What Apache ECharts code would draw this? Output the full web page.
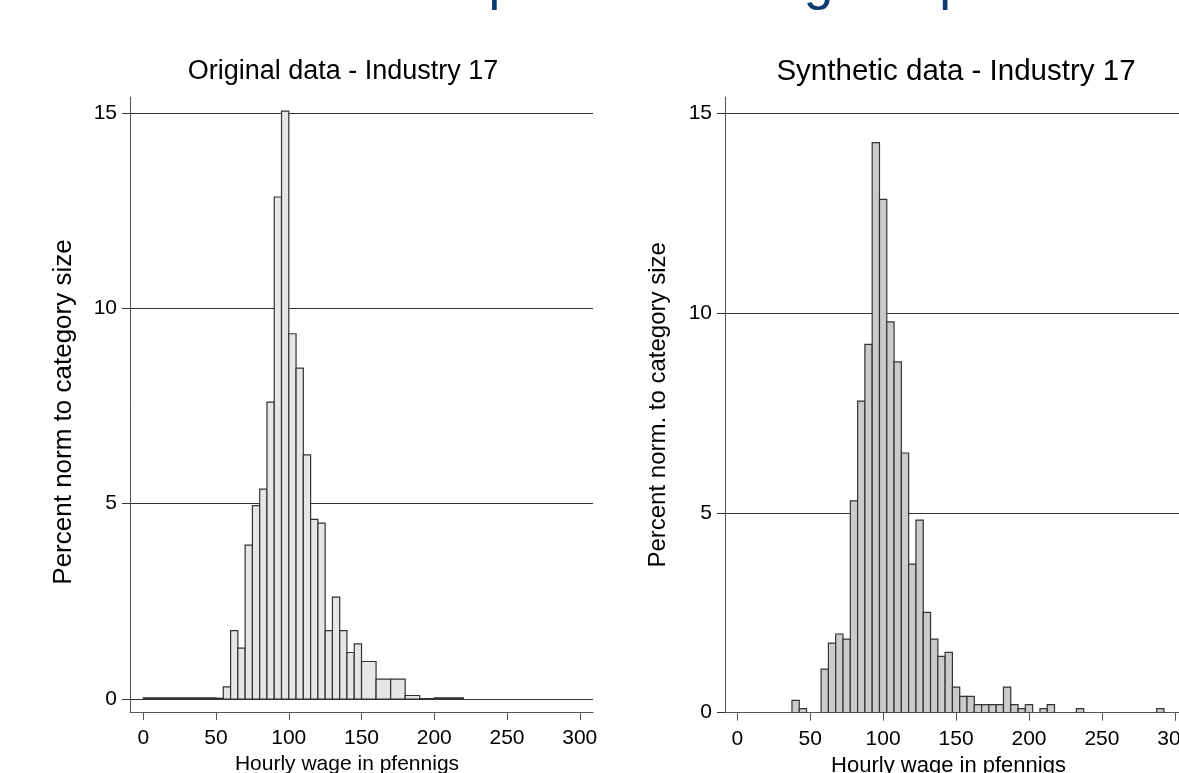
<!DOCTYPE html>
<html><head><meta charset="utf-8">
<script src="https://cdn.jsdelivr.net/npm/echarts@6/dist/echarts.min.js"></script>
<style>html,body{margin:0;padding:0;background:#fff}#c{width:1179px;height:773px}</style>
</head><body><div id="c"></div>
<script>
// ---- text ----
const slideTitle = 'Univariate comparison: histogram plots';
const leftTitle = 'Original data - Industry 17';
const rightTitle = 'Synthetic data - Industry 17';
const xTitle = 'Hourly wage in pfennigs';
const leftYTitle = 'Percent norm to category size';
const rightYTitle = 'Percent norm. to category size';

// ---- tick labels ----
const xTicks = [0, 50, 100, 150, 200, 250, 300];
const yTicks = [0, 5, 10, 15];

// ---- original data (variable-width bins) ----
const origBinStart = [0, 50, 55, 60, 65, 70, 75, 80, 85, 90, 95, 100, 105, 110, 115, 120, 125, 130, 135, 140, 145, 150, 160, 170, 180, 190, 200];
const origBinEnd   = [50, 55, 60, 65, 70, 75, 80, 85, 90, 95, 100, 105, 110, 115, 120, 125, 130, 135, 140, 145, 150, 160, 170, 180, 190, 200, 220];
const origPercent  = [0.03, 0.02, 0.31, 1.75, 1.30, 3.94, 4.95, 5.37, 7.60, 12.85, 15.05, 9.35, 8.47, 6.25, 4.60, 4.50, 1.75, 2.61, 1.75, 1.19, 1.41, 0.96, 0.51, 0.51, 0.09, 0.01, 0.03];

// ---- synthetic data (bins of width 5, given by centre) ----
const synthBinWidth = 5;
const synthBinCenter = [40, 45, 60, 65, 70, 75, 80, 85, 90, 95, 100, 105, 110, 115, 120, 125, 130, 135, 140, 145, 150, 155, 160, 165, 170, 175, 180, 185, 190, 195, 200, 210, 215, 235, 290];
const synthPercent   = [0.31, 0.10, 1.09, 1.74, 1.97, 1.84, 5.30, 7.80, 9.22, 14.27, 12.85, 9.78, 8.78, 6.50, 3.72, 4.82, 2.51, 1.84, 1.41, 1.51, 0.64, 0.41, 0.41, 0.20, 0.20, 0.20, 0.20, 0.64, 0.20, 0.10, 0.20, 0.10, 0.20, 0.10, 0.10];

const FONT = "'Liberation Sans', Arial, Helvetica, sans-serif";

const origData = origBinStart.map((s, i) => [s, origBinEnd[i], origPercent[i]]);
const synthData = synthBinCenter.map((c, i) => [c - synthBinWidth / 2, c + synthBinWidth / 2, synthPercent[i]]);

function makeRender(fill) {
  return function (params, api) {
    const p0 = api.coord([api.value(0), 0]);
    const p1 = api.coord([api.value(1), api.value(2)]);
    return {
      type: 'rect',
      shape: { x: p0[0], y: p1[1], width: p1[0] - p0[0], height: p0[1] - p1[1] },
      style: { fill: fill, stroke: '#333', lineWidth: 1.2 }
    };
  };
}

function xAxisCfg(gridIndex, min, max, namePad, nameSize) {
  return {
    type: 'value', gridIndex, min, max,
    name: xTitle, nameLocation: 'middle', nameGap: 41,
    nameTextStyle: { fontFamily: FONT, fontSize: nameSize, color: '#000', padding: namePad },
    axisLine: { show: true, onZero: false, lineStyle: { color: '#555', width: 1 } },
    axisTick: { show: true, inside: false, length: 8, customValues: xTicks, lineStyle: { color: '#555' } },
    axisLabel: { customValues: xTicks, margin: 16, fontFamily: FONT, fontSize: 21, color: '#000' },
    splitLine: { show: false }
  };
}
function yAxisCfg(gridIndex, min, name, namePad, nameSize, nameGap) {
  return {
    type: 'value', gridIndex, min, max: 15.41,
    name: name, nameLocation: 'middle', nameGap: nameGap,
    nameTextStyle: { fontFamily: FONT, fontSize: nameSize, color: '#000', padding: namePad },
    axisLine: { show: true, onZero: false, lineStyle: { color: '#555', width: 1 } },
    axisTick: { show: true, inside: false, length: 8, customValues: yTicks, lineStyle: { color: '#333' } },
    axisLabel: { customValues: yTicks, margin: 13, fontFamily: FONT, fontSize: 21, color: '#000' },
    splitLine: { show: true, lineStyle: { color: '#333', width: 1 } }
  };
}

const chart = echarts.init(document.getElementById('c'), null, { renderer: 'canvas' });
chart.setOption({
  backgroundColor: '#fff',
  animation: false,
  title: [
    { text: leftTitle, left: 343, top: 58, textAlign: 'center', padding: 0,
      textStyle: { fontFamily: FONT, fontSize: 27, fontWeight: 'normal', color: '#000' } },
    { text: rightTitle, left: 956, top: 57, textAlign: 'center', padding: 0,
      textStyle: { fontFamily: FONT, fontSize: 29.5, fontWeight: 'normal', color: '#000' } }
  ],
  graphic: [{
    type: 'text', left: 135, top: -42, silent: true,
    style: { text: slideTitle, font: '53px ' + FONT, fill: '#0b3b70' }
  }],
  grid: [
    { left: 130, right: 1179 - 593, top: 97, bottom: 773 - 712, containLabel: false, outerBoundsMode: 'none' },
    { left: 725, right: -9, top: 97, bottom: 773 - 712.7, containLabel: false, outerBoundsMode: 'none' }
  ],
  xAxis: [
    xAxisCfg(0, -9.14, 309.1, [0, 29, 0, 0], 21),
    xAxisCfg(1, -8.4, 309, [0, 16, 0, 0], 22)
  ],
  yAxis: [
    yAxisCfg(0, -0.333, leftYTitle, [0, 15, 0, 0], 26, 53),
    yAxisCfg(1, 0, rightYTitle, [0, 0, 0, 0], 24, 55)
  ],
  series: [
    { type: 'custom', xAxisIndex: 0, yAxisIndex: 0, renderItem: makeRender('#e6e6e6'),
      encode: { x: [0, 1], y: 2 }, data: origData, clip: true },
    { type: 'custom', xAxisIndex: 1, yAxisIndex: 1, renderItem: makeRender('#cbcbcb'),
      encode: { x: [0, 1], y: 2 }, data: synthData, clip: true }
  ]
});
</script></body></html>
